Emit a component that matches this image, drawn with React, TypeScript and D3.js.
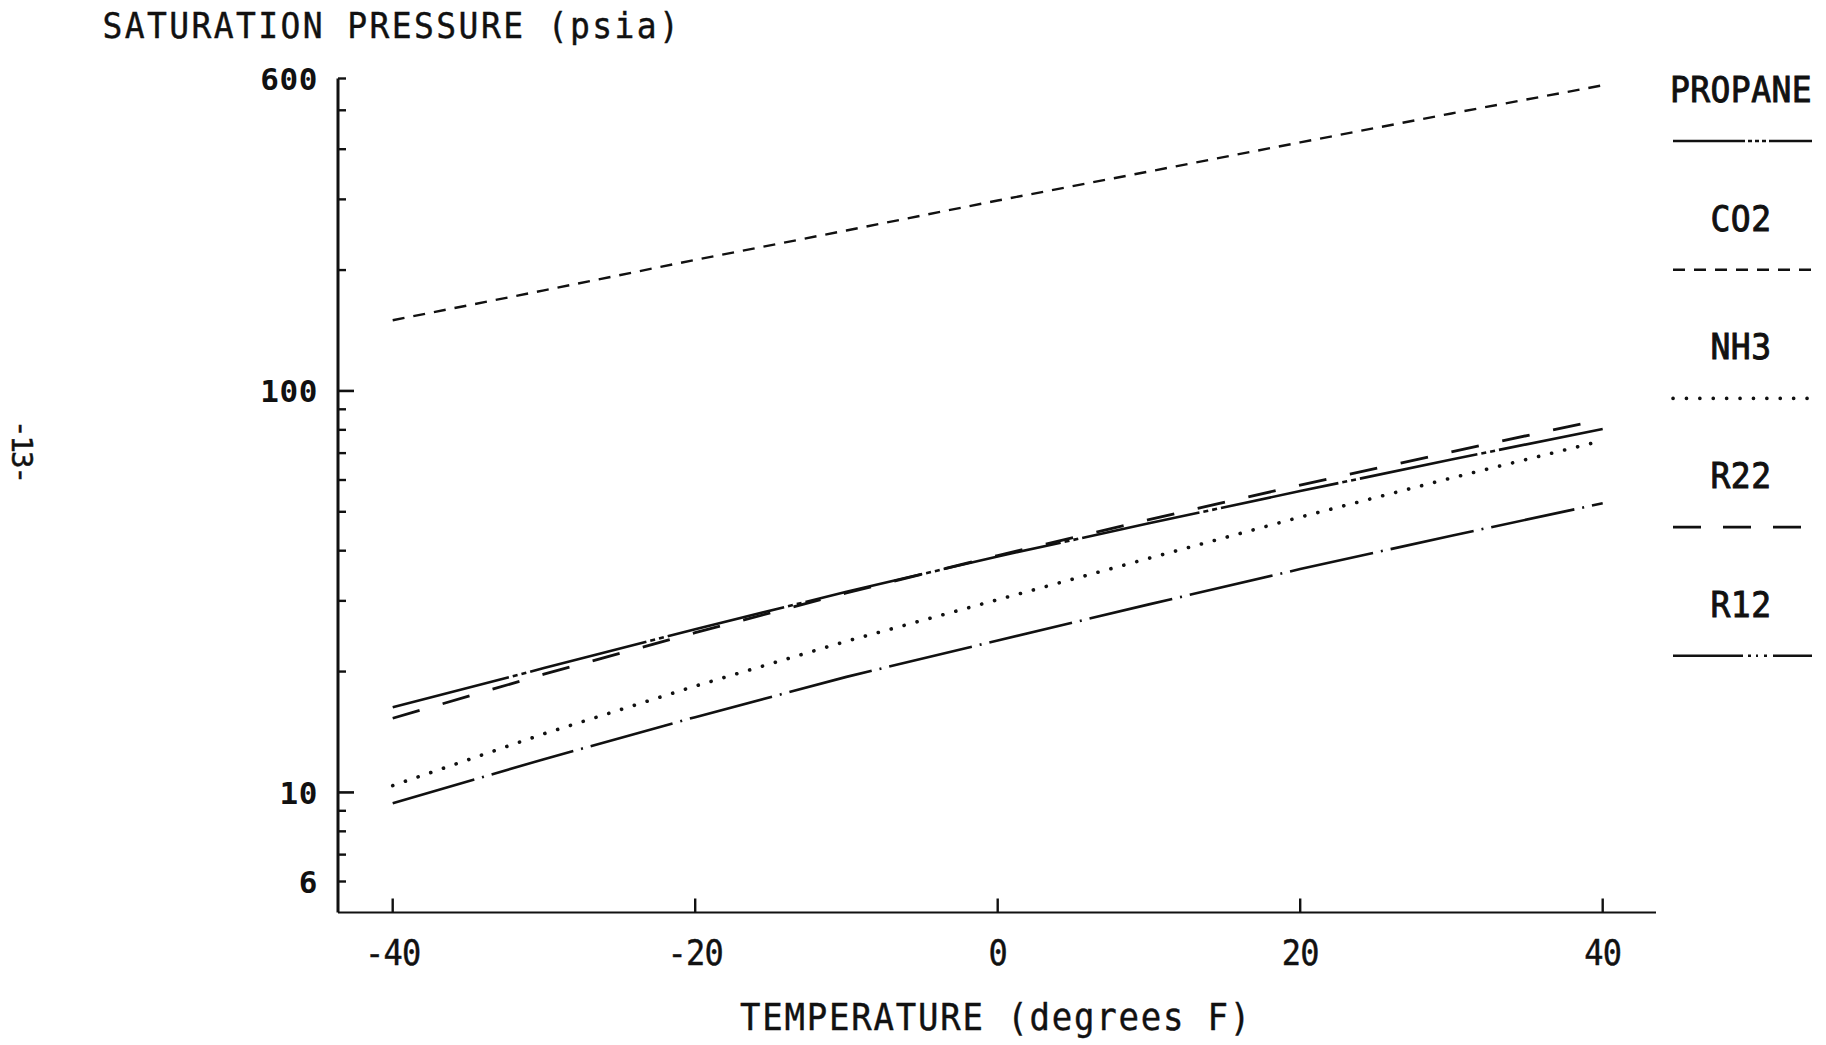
import React from "react";
import * as d3 from "d3";

// ---- data ----
const temperatures = [-40, -30, -20, -10, 0, 10, 20, 30, 40];
const propane = [16.3, 20.4, 25.5, 31.6, 38.7, 46.8, 56.3, 67.5, 80.4];
const co2 = [150, 178, 212, 251, 298, 352, 416, 491, 577];
const nh3 = [10.4, 14.0, 18.4, 23.8, 30.2, 38.3, 48.5, 60.7, 75.2];
const r22 = [15.3, 19.7, 25.0, 31.4, 38.9, 47.8, 58.3, 70.5, 85.0];
const r12 = [9.4, 12.1, 15.4, 19.4, 23.9, 29.4, 36.0, 43.6, 52.5];

const seriesNames = ["PROPANE", "CO2", "NH3", "R22", "R12"];
const seriesValues = [propane, co2, nh3, r22, r12];

const xTickValues = [-40, -20, 0, 20, 40];
const yLabelValues = [6, 10, 100, 600];
const yMajorTicks = [10, 100];
const yMinorTicks = [6, 7, 8, 9, 20, 30, 40, 50, 60, 70, 80, 90, 200, 300, 400, 500, 600];

const TITLE_Y = "SATURATION PRESSURE (psia)";
const TITLE_X = "TEMPERATURE (degrees F)";
const PAGE_NO = "-13-";

// ---- styles ----
const dashes = [
  "120 4 5 4 5 4",
  "12 9",
  "0.1 13.3",
  "28 24",
  "85 8 2 8",
];
const legendDashes = [
  "72 3 4 3 4 3 4 3 60",
  "12 9",
  "0.1 13.3",
  "28 22",
  "70 5 3 5 2 6 3 6 40",
];
const caps: ("butt" | "round")[] = ["butt", "butt", "round", "butt", "butt"];
const widths = [2.6, 2.4, 3.6, 2.8, 2.6];

const FONT = "'DejaVu Sans Mono', 'Liberation Mono', monospace";

export default function App() {
  const x = d3.scaleLinear().domain([-40, 40]).range([392.7, 1602.7]);
  const y = d3.scaleLog().domain([6, 600]).range([881.5, 78.5]);

  const axisLeft = 338;
  const axisBottom = 912.5;
  const axisRight = 1656;

  const line = d3
    .line<[number, number]>()
    .x((d) => x(d[0]))
    .y((d) => y(d[1]));

  const legendCx = 1741;
  const legendX0 = 1673;
  const legendX1 = 1812;

  return (
    <svg
      width={1826}
      height={1045}
      viewBox="0 0 1826 1045"
      style={{ position: "absolute", left: 0, top: 0, background: "#fff" }}
    >
      <rect x={0} y={0} width={1826} height={1045} fill="#fff" />

      {/* titles */}
      <text
        transform="translate(102.5,38) scale(1,1.08)"
        fontFamily={FONT}
        fontSize={33}
        letterSpacing={2.4}
        fill="#111"
        stroke="#111"
        strokeWidth={0.4}
      >
        {TITLE_Y}
      </text>
      <text
        transform="translate(996,1030) scale(1,1.1)"
        textAnchor="middle"
        fontFamily={FONT}
        fontSize={34}
        letterSpacing={1.8}
        fill="#111"
        stroke="#111"
        strokeWidth={0.4}
      >
        {TITLE_X}
      </text>
      <text
        transform="translate(12,451) rotate(90)"
        textAnchor="middle"
        fontFamily={FONT}
        fontSize={29}
        letterSpacing={-2}
        fill="#111"
        stroke="#111"
        strokeWidth={0.5}
      >
        {PAGE_NO}
      </text>

      {/* axes */}
      <line x1={axisLeft} y1={y(600)} x2={axisLeft} y2={axisBottom} stroke="#111" strokeWidth={3} />
      <line x1={axisLeft} y1={axisBottom} x2={axisRight} y2={axisBottom} stroke="#111" strokeWidth={2.2} />

      {yMinorTicks.map((v) => (
        <line key={"mn" + v} x1={axisLeft} x2={axisLeft + 8} y1={y(v)} y2={y(v)} stroke="#111" strokeWidth={2.4} />
      ))}
      {yMajorTicks.map((v) => (
        <line key={"mj" + v} x1={axisLeft} x2={axisLeft + 16} y1={y(v)} y2={y(v)} stroke="#111" strokeWidth={2.6} />
      ))}
      {yLabelValues.map((v) => (
        <text
          key={"yl" + v}
          x={318}
          y={y(v) + 11.5}
          textAnchor="end"
          fontFamily={FONT}
          fontWeight="bold"
          fontSize={31}
          letterSpacing={0.6}
          fill="#111"
        >
          {String(v)}
        </text>
      ))}

      {xTickValues.map((v) => (
        <g key={"xt" + v}>
          <line x1={x(v)} x2={x(v)} y1={axisBottom} y2={axisBottom - 14} stroke="#111" strokeWidth={2.4} />
          <text
            transform={`translate(${x(v)},965) scale(1,1.1)`}
            textAnchor="middle"
            fontFamily={FONT}
            fontSize={32}
            letterSpacing={-0.8}
            fill="#111"
            stroke="#111"
            strokeWidth={0.4}
          >
            {v < 0 ? "-" + Math.abs(v) : String(v)}
          </text>
        </g>
      ))}

      {/* series */}
      {seriesValues.map((vals, i) => (
        <path
          key={"s" + i}
          d={line(temperatures.map((t, j) => [t, vals[j]] as [number, number])) || ""}
          fill="none"
          stroke="#111"
          strokeWidth={widths[i]}
          strokeDasharray={dashes[i]}
          strokeLinecap={caps[i]}
        />
      ))}

      {/* legend */}
      {seriesNames.map((name, i) => {
        const base = 102 + 128.7 * i;
        return (
          <g key={"lg" + i}>
            <text
              transform={`translate(${legendCx},${base}) scale(1,1.06)`}
              textAnchor="middle"
              fontFamily={FONT}
              fontSize={33}
              letterSpacing={0.4}
              fill="#111"
              stroke="#111"
              strokeWidth={0.9}
            >
              {name}
            </text>
            <line
              x1={legendX0}
              x2={legendX1}
              y1={base + 39}
              y2={base + 39}
              stroke="#111"
              strokeWidth={widths[i]}
              strokeDasharray={legendDashes[i]}
              strokeLinecap={caps[i]}
            />
          </g>
        );
      })}
    </svg>
  );
}
